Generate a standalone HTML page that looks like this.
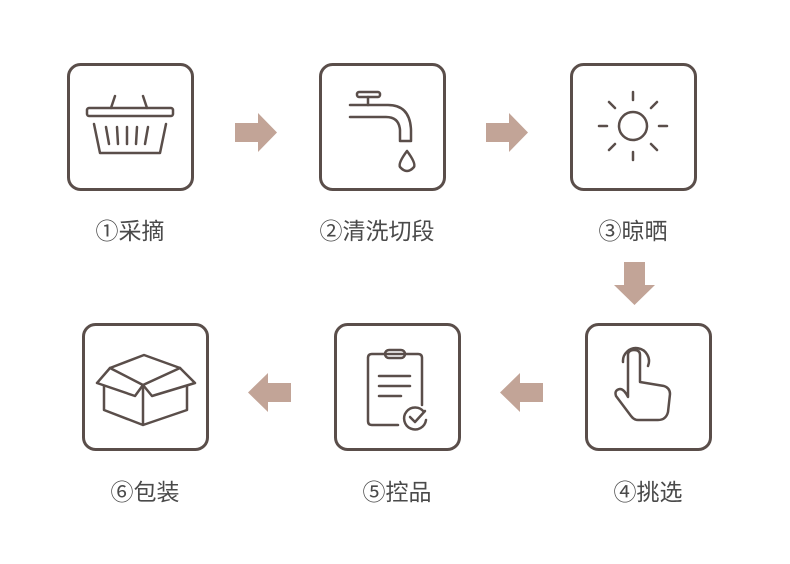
<!DOCTYPE html>
<html><head><meta charset="utf-8"><style>
body{margin:0;background:#fff;width:790px;height:559px;overflow:hidden}
text{font-family:"Liberation Sans","Noto Sans CJK SC",sans-serif;font-size:23px;fill:#4a4a4a}
</style></head><body>
<svg width="790" height="559" viewBox="0 0 790 559">
<g fill="none" stroke="#5a4e4a" stroke-width="3">
<rect x="68.5" y="64.5" width="124" height="125" rx="12"/>
<rect x="320.5" y="64.5" width="124" height="125" rx="12"/>
<rect x="571.5" y="64.5" width="124" height="125" rx="12"/>
<rect x="83.5" y="324.5" width="124" height="125" rx="12"/>
<rect x="335.5" y="324.5" width="124" height="125" rx="12"/>
<rect x="586.5" y="324.5" width="124" height="125" rx="12"/>
</g>
<g fill="none" stroke="#5a4e4a" stroke-width="2.5" stroke-linecap="round" stroke-linejoin="round">
<!-- basket -->
<rect x="87" y="108" width="86" height="8" rx="2"/>
<path d="M115 96 L111 108 M143 96 L147 108"/>
<path d="M94 124 L100 153 L160 153 L166 124"/>
<path d="M106 127 L109 144 M117 127 L118 144 M127 127 L127 144 M137 127 L136 144 M148 127 L145 144"/>
<!-- faucet -->
<rect x="357" y="92" width="23" height="5" rx="2"/>
<path d="M368 97 L368 105"/>
<path d="M350 105 L388 105 Q410 105 411 130 L411 141 L400 141 L400 130 Q399 117 386 117 L350 117"/>
<path d="M407 151 Q398 163 400 167 Q407 175 414 167 Q416 163 407 151 Z"/>
<!-- sun -->
<circle cx="633" cy="126" r="14"/>
<path d="M633 92 L633 100 M633 152 L633 160 M599 126 L607 126 M659 126 L667 126 M609 102 L615 108 M651 144 L657 150 M657 102 L651 108 M615 144 L609 150"/>
<!-- box -->
<path d="M110 368 L144 355 L180 368 L143 385 Z"/>
<path d="M110 368 L97 383 L135 396 L143 385 M180 368 L195 383 L152 396 L143 385"/>
<path d="M104 386 L104 410 L143 425 L187 410 L187 386 M143 385 L143 425"/>
<!-- clipboard -->
<path d="M398 425 L372 425 Q368 425 368 421 L368 358 Q368 354 372 354 L418 354 Q422 354 422 358 L422 405"/>
<rect x="385" y="350" width="20" height="8" rx="4"/>
<path d="M379 376 L410 376 M379 386 L410 386 M379 396 L401 396"/>
<path d="M424 412 A11 11 0 1 0 426 420" />
<path d="M410 417 L415 422 L425 411"/>
<!-- hand -->
<path d="M623 362 A13 13 0 1 1 648 366"/>
<path d="M628 397 L628 355 Q628 350 634 350 Q640 350 640 355 L640 382 L664 386 Q670 388 670 394 L668 412 Q666 420 658 420 L638 420 Q634 420 631 416 L616 396 Q614 390 620 389 Q624 389 628 397 Z"/>
</g>
<g fill="#c2a497">
<path d="M235 123 L258 123 L258 113 L277 132.5 L258 152 L258 142 L235 142 Z"/>
<path d="M486 123 L509 123 L509 113 L528 132.5 L509 152 L509 142 L486 142 Z"/>
<path d="M624 262 L645 262 L645 285 L655 285 L634.5 305 L614 285 L624 285 Z"/>
<path d="M291 383 L268 383 L268 373 L248 392.5 L268 412 L268 402 L291 402 Z"/>
<path d="M543 383 L520 383 L520 373 L500 392.5 L520 412 L520 402 L543 402 Z"/>
</g>
<text x="130" y="239" text-anchor="middle">①采摘</text>
<text x="377" y="239" text-anchor="middle">②清洗切段</text>
<text x="633" y="239" text-anchor="middle">③晾晒</text>
<text x="145" y="500" text-anchor="middle">⑥包装</text>
<text x="397" y="500" text-anchor="middle">⑤控品</text>
<text x="648" y="500" text-anchor="middle">④挑选</text>
</svg>
</body></html>
